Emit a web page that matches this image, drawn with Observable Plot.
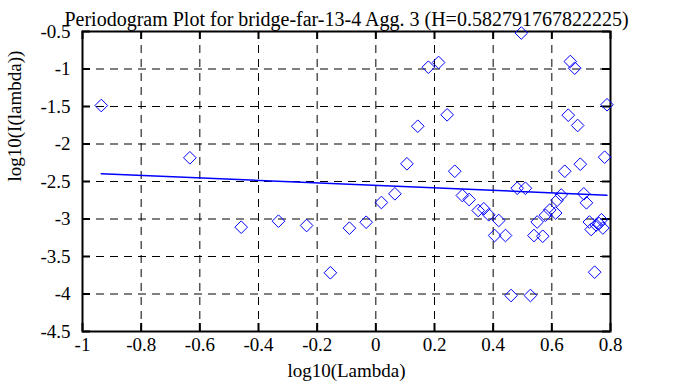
<!DOCTYPE html>
<html><head><meta charset="utf-8">
<script src="https://cdn.jsdelivr.net/npm/d3@7"></script>
<script src="https://cdn.jsdelivr.net/npm/@observablehq/plot@0.6"></script>
<style>body{margin:0;background:#fff}</style>
</head><body><div id="chart"></div>
<script>
const lambda = [-0.936, -0.634, -0.459, -0.332, -0.236, -0.155, -0.09, -0.033, 0.019, 0.065,
  0.106, 0.143, 0.179, 0.214, 0.243, 0.269, 0.295, 0.318, 0.349, 0.368,
  0.385, 0.405, 0.419, 0.442, 0.461, 0.482, 0.496, 0.51, 0.527, 0.539,
  0.55, 0.569, 0.578, 0.593, 0.613, 0.618, 0.632, 0.644, 0.656, 0.663,
  0.678, 0.688, 0.697, 0.709, 0.718, 0.728, 0.734, 0.746, 0.751, 0.761,
  0.769, 0.774, 0.78, 0.788];
const logI = [-1.487, -2.184, -3.109, -3.029, -3.087, -3.717, -3.122, -3.043, -2.78, -2.664,
  -2.264, -1.763, -0.976, -0.913, -1.611, -2.363, -2.687, -2.74, -2.887, -2.864,
  -2.944, -3.22, -3.02, -3.22, -4.02, -2.59, -0.52, -2.59, -4.02, -3.22,
  -3.04, -3.23, -2.95, -2.88, -2.92, -2.75, -2.68, -2.363, -1.616, -0.9,
  -0.989, -1.753, -2.269, -2.664, -2.784, -3.04, -3.14, -3.709, -3.08, -3.06,
  -3.01, -3.12, -2.176, -1.477];
const fitLambda = [-0.936, 0.788];
const fitI = [-2.397, -2.683];
const xTicks = [-1, -0.8, -0.6, -0.4, -0.2, 0, 0.2, 0.4, 0.6, 0.8];
const yTicks = [-4.5, -4, -3.5, -3, -2.5, -2, -1.5, -1, -0.5];
const title = "Periodogram Plot for bridge-far-13-4 Agg. 3 (H=0.582791767822225)";
const xLabel = "log10(Lambda)";
const yLabel = "log10(I(lambda))";

const points = lambda.map((x, i) => ({x, y: logI[i]}));
const fit = fitLambda.map((x, i) => ({x, y: fitI[i]}));
const FW = 678 - 82 - 68, FH = 387 - 31 - 56;
const fs = 19;
const ff = "serif";

const chart = Plot.plot({
  width: 678, height: 387,
  marginLeft: 82, marginRight: 68, marginTop: 31, marginBottom: 56,
  style: {fontFamily: ff, fontSize: fs + "px", background: "#fff", color: "black"},
  x: {domain: [-1, 0.8], axis: null},
  y: {domain: [-4.5, -0.5], axis: null},
  marks: [
    Plot.gridX(xTicks, {stroke: "black", strokeOpacity: 1, strokeDasharray: "8,6"}),
    Plot.gridY(yTicks, {stroke: "black", strokeOpacity: 1, strokeDasharray: "8,6"}),
    Plot.tickX(xTicks, {x: d => d, stroke: "black", strokeWidth: 2, insetTop: FH - 8}),
    Plot.tickX(xTicks, {x: d => d, stroke: "black", strokeWidth: 2, insetBottom: FH - 8}),
    Plot.tickY(yTicks, {y: d => d, stroke: "black", strokeWidth: 2, insetRight: FW - 8}),
    Plot.tickY(yTicks, {y: d => d, stroke: "black", strokeWidth: 2, insetLeft: FW - 8}),
    Plot.frame({stroke: "black", strokeWidth: 2}),
    Plot.line(fit, {x: "x", y: "y", stroke: "blue", strokeWidth: 1.5}),
    Plot.dot(points, {x: "x", y: "y", symbol: "diamond2", r: 5.7, stroke: "blue", strokeWidth: 1, fill: "none"}),
    Plot.text(xTicks, {x: d => d, frameAnchor: "bottom", dy: 19, text: d => String(d), fill: "black", fontSize: fs, fontFamily: ff}),
    Plot.text(yTicks, {y: d => d, frameAnchor: "left", dx: -12, textAnchor: "end", text: d => String(d), fill: "black", fontSize: fs, fontFamily: ff}),
    Plot.text([xLabel], {frameAnchor: "bottom", dy: 45, text: d => d, fill: "black", fontSize: fs, fontFamily: ff}),
    Plot.text([yLabel], {frameAnchor: "left", dx: -68, rotate: -90, text: d => d, fill: "black", fontSize: fs, fontFamily: ff}),
    Plot.text([title], {frameAnchor: "top", dy: -20, text: d => d, fill: "black", fontSize: 20, fontFamily: ff})
  ]
});
document.getElementById("chart").appendChild(chart);
</script>
</body></html>
